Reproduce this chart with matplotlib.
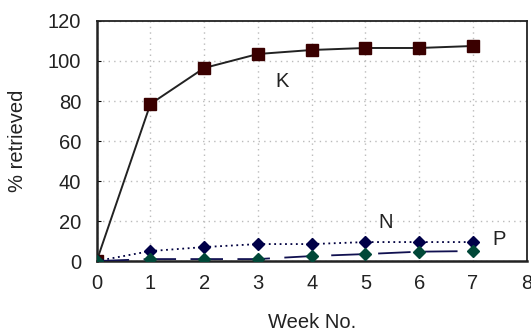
import matplotlib
matplotlib.use("Agg")
import matplotlib.pyplot as plt

plt.rcParams['font.family'] = ['Liberation Sans', 'DejaVu Sans']

weeks = [0, 1, 2, 3, 4, 5, 6, 7]
k_vals = [0, 78.5, 96.5, 103.5, 105.5, 106.5, 106.5, 107.5]
n_vals = [0, 5, 7, 8.5, 8.5, 9.5, 9.5, 9.5]
p_vals = [0, 1, 1, 1, 2.5, 3.5, 4.7, 5]

fig = plt.figure(figsize=(5.31, 3.33), dpi=100)
ax = fig.add_axes([0.182, 0.216, 0.81, 0.721])

ax.plot(weeks, k_vals, color='#222222', lw=1.4, marker='s', ms=8.5,
        mfc='#3a0000', mec='#3a0000', zorder=3)
ax.plot(weeks, n_vals, color='#000040', lw=1.3, ls=(0, (1, 2)), marker='D', ms=6.5,
        mfc='#000048', mec='#000048', zorder=3)
ax.plot(weeks, p_vals, color='#101050', lw=1.3, ls=(0, (18, 8)), marker='D', ms=6.5,
        mfc='#004838', mec='#004838', zorder=4)

ax.text(3.45, 90, 'K', fontsize=14.5, ha='center', va='center', color='#222222')
ax.text(5.38, 19.5, 'N', fontsize=14.5, ha='center', va='center', color='#222222')
ax.text(7.48, 11, 'P', fontsize=14.5, ha='center', va='center', color='#222222')

ax.set_xlim(0, 8)
ax.set_ylim(0, 120)
ax.set_xticks(range(0, 9))
ax.set_yticks(range(0, 121, 20))
ax.grid(True, color='#bbbbbb', ls=(0, (1, 3)), lw=1)
ax.tick_params(direction='in', labelsize=14.5, length=3, labelcolor='#222222')
ax.tick_params(axis='y', pad=11)
ax.tick_params(axis='x', pad=9, length=0)
for s in ax.spines.values():
    s.set_color('#222222')
    s.set_linewidth(1.3)
ax.spines['bottom'].set_linewidth(1.8)
ax.spines['left'].set_linewidth(1.8)

ax.set_xlabel('Week No.', fontsize=14.5, color='#222222')
ax.set_ylabel('% retrieved', fontsize=14.5, color='#222222')
ax.xaxis.set_label_coords(0.5, -0.215)
ax.yaxis.set_label_coords(-0.162, 0.5)

fig.savefig('out.png', dpi=100)
